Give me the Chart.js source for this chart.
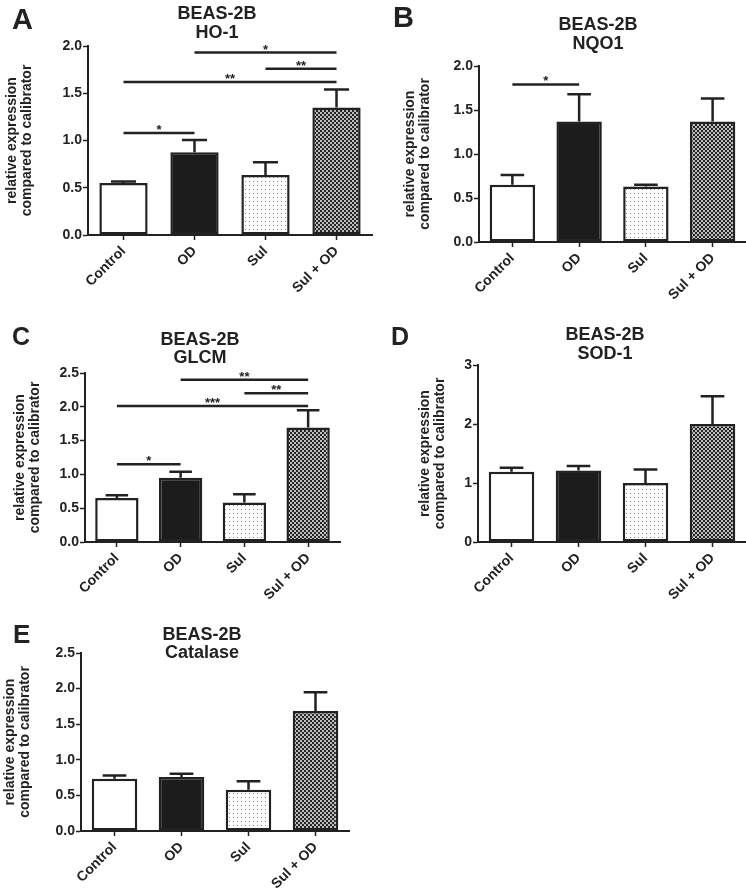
<!DOCTYPE html>
<html>
<head>
<meta charset="utf-8">
<script src="https://cdn.jsdelivr.net/npm/chart.js@4.4.0/dist/chart.umd.min.js"></script>
<style>
    html, body { margin: 0; padding: 0; background: #fff; }
    body { width: 746px; height: 893px; position: relative; overflow: hidden; }
    canvas { position: absolute; }
</style>
</head>
<body>
<canvas id="hoChart" width="373" height="300" style="left:0;top:0"></canvas>
<canvas id="nqoChart" width="373" height="300" style="left:373px;top:0"></canvas>
<canvas id="glcmChart" width="373" height="300" style="left:0;top:300px"></canvas>
<canvas id="sodChart" width="373" height="300" style="left:373px;top:300px"></canvas>
<canvas id="catChart" width="373" height="293" style="left:0;top:600px"></canvas>
<script>
const groups = ['Control', 'OD', 'Sul', 'Sul + OD'];
const yTitle = ['relative expression', 'compared to calibrator'];

// HO-1
const hoMean = [0.55, 0.875, 0.635, 1.35];
const hoSem = [0.015, 0.13, 0.135, 0.19];
const hoTicks = [0, 0.5, 1.0, 1.5, 2.0];
const hoSig = [
    { from: 0, to: 1, y: 1.08, mark: '*' },
    { from: 0, to: 3, y: 1.62, mark: '**' },
    { from: 2, to: 3, y: 1.76, mark: '**' },
    { from: 1, to: 3, y: 1.93, mark: '*' }
];

// NQO1
const nqoMean = [0.65, 1.37, 0.63, 1.37];
const nqoSem = [0.11, 0.31, 0.02, 0.26];
const nqoTicks = [0, 0.5, 1.0, 1.5, 2.0];
const nqoSig = [
    { from: 0, to: 1, y: 1.79, mark: '*' }
];

// GLCM
const glcmMean = [0.65, 0.95, 0.585, 1.695];
const glcmSem = [0.04, 0.09, 0.12, 0.255];
const glcmTicks = [0, 0.5, 1.0, 1.5, 2.0, 2.5];
const glcmSig = [
    { from: 0, to: 1, y: 1.15, mark: '*' },
    { from: 0, to: 3, y: 2.01, mark: '***' },
    { from: 2, to: 3, y: 2.2, mark: '**' },
    { from: 1, to: 3, y: 2.4, mark: '**' }
];

// SOD-1
const sodMean = [1.19, 1.21, 1.0, 2.0];
const sodSem = [0.07, 0.08, 0.23, 0.47];
const sodTicks = [0, 1, 2, 3];
const sodSig = [];

// Catalase
const catMean = [0.735, 0.76, 0.58, 1.685];
const catSem = [0.045, 0.045, 0.12, 0.265];
const catTicks = [0, 0.5, 1.0, 1.5, 2.0, 2.5];
const catSig = [];

const ink = '#222';
const family = "'Liberation Sans', Arial, Helvetica, sans-serif";
Chart.defaults.font.family = family;

function makePattern(size, draw) {
    const c = document.createElement('canvas');
    c.width = size;
    c.height = size;
    const g = c.getContext('2d');
    draw(g);
    return g.createPattern(c, 'repeat');
}

const dotFill = makePattern(4, (g) => {
    g.fillStyle = '#fff';
    g.fillRect(0, 0, 4, 4);
    g.fillStyle = '#8c8c8c';
    g.fillRect(1, 1, 1, 1);
});

const checkFill = makePattern(4, (g) => {
    g.fillStyle = '#262626';
    g.fillRect(0, 0, 4, 4);
    g.fillStyle = '#bdbdbd';
    g.fillRect(0, 0, 2, 2);
    g.fillRect(2, 2, 2, 2);
});

const fills = ['#ffffff', '#1c1c1c', dotFill, checkFill];

// error bars, significance lines, titles and panel letters
const panelExtras = {
    id: 'panelExtras',
    afterDatasetsDraw(chart, args, opts) {
        const ctx = chart.ctx;
        const xs = chart.scales.x;
        const ys = chart.scales.y;
        const bars = chart.getDatasetMeta(0).data;
        const mean = chart.data.datasets[0].data;

        ctx.save();
        ctx.strokeStyle = ink;
        ctx.lineWidth = 2.5;
        opts.sem.forEach((s, i) => {
            const bar = bars[i];
            const top = ys.getPixelForValue(mean[i] + s);
            const half = bar.width * 0.26;
            ctx.beginPath();
            ctx.moveTo(bar.x, bar.y);
            ctx.lineTo(bar.x, top);
            ctx.moveTo(bar.x - half, top);
            ctx.lineTo(bar.x + half, top);
            ctx.stroke();
        });

        ctx.fillStyle = ink;
        ctx.font = 'bold 13px ' + family;
        ctx.textAlign = 'center';
        ctx.textBaseline = 'alphabetic';
        opts.sig.forEach((b) => {
            const x1 = xs.getPixelForValue(b.from);
            const x2 = xs.getPixelForValue(b.to);
            const yy = ys.getPixelForValue(b.y);
            ctx.beginPath();
            ctx.moveTo(x1, yy);
            ctx.lineTo(x2, yy);
            ctx.stroke();
            ctx.fillText(b.mark, (x1 + x2) / 2, yy + 1);
        });
        ctx.restore();
    },
    afterDraw(chart, args, opts) {
        const ctx = chart.ctx;
        ctx.save();
        ctx.fillStyle = ink;
        ctx.textBaseline = 'alphabetic';
        ctx.textAlign = 'center';
        ctx.font = 'bold 18px ' + family;
        opts.title.forEach((line, i) => {
            ctx.fillText(line, opts.titleX, opts.titleY[i] + 6.5);
        });
        ctx.textAlign = 'left';
        ctx.font = 'bold ' + opts.letterSize + 'px ' + family;
        ctx.fillText(opts.letter, opts.letterX, opts.letterY);
        ctx.restore();
    }
};

function buildPanel(p) {
    const canvas = document.getElementById(p.id);
    const area = p.area;
    return new Chart(canvas, {
        type: 'bar',
        data: {
            labels: groups,
            datasets: [{
                data: p.mean,
                backgroundColor: fills,
                borderColor: ink,
                borderWidth: 2.5,
                borderSkipped: false,
                barPercentage: 0.68,
                categoryPercentage: 1
            }]
        },
        options: {
            responsive: false,
            animation: false,
            events: [],
            layout: {
                padding: { top: area.t, right: canvas.width - area.r, bottom: 0, left: 0 }
            },
            plugins: {
                legend: { display: false },
                tooltip: { enabled: false },
                panelExtras: {
                    sem: p.sem,
                    sig: p.sig,
                    title: p.title,
                    titleX: p.titleX,
                    titleY: p.titleY,
                    letter: p.letter,
                    letterX: p.letterX,
                    letterY: p.letterY,
                    letterSize: p.letterSize
                }
            },
            scales: {
                x: {
                    offset: true,
                    grid: { offset: false, drawOnChartArea: false, tickLength: 5, tickColor: ink, tickWidth: 1.5 },
                    border: { color: ink, width: 2 },
                    ticks: {
                        autoSkip: false,
                        maxRotation: 45,
                        minRotation: 45,
                        padding: 3,
                        color: ink,
                        font: { size: 14, weight: 'bold' }
                    },
                    afterFit: (s) => { s.height = canvas.height - area.b; }
                },
                y: {
                    min: 0,
                    max: p.ticks[p.ticks.length - 1],
                    afterBuildTicks: (s) => { s.ticks = p.ticks.map((v) => ({ value: v })); },
                    grid: { drawOnChartArea: false, tickLength: 5, tickColor: ink, tickWidth: 1.5 },
                    border: { color: ink, width: 2 },
                    ticks: {
                        padding: 1,
                        color: ink,
                        font: { size: 14, weight: 'bold' },
                        callback: (v) => Number(v).toFixed(p.decimals)
                    },
                    title: {
                        display: true,
                        text: yTitle,
                        color: ink,
                        font: { size: 14, weight: 'bold', lineHeight: '15px' },
                        padding: { top: p.yTitlePad, bottom: 0 }
                    },
                    afterFit: (s) => { s.width = area.l; }
                }
            }
        },
        plugins: [panelExtras]
    });
}

function main() {
    const panels = [
        {
            id: 'hoChart', mean: hoMean, sem: hoSem, ticks: hoTicks, sig: hoSig, decimals: 1,
            area: { l: 88, t: 46, r: 372, b: 235 },
            title: ['BEAS-2B', 'HO-1'], titleX: 217, titleY: [12.5, 31],
            letter: 'A', letterX: 12, letterY: 29, letterSize: 29, yTitlePad: 4.5
        },
        {
            id: 'nqoChart', mean: nqoMean, sem: nqoSem, ticks: nqoTicks, sig: nqoSig, decimals: 1,
            area: { l: 106, t: 66, r: 373, b: 242 },
            title: ['BEAS-2B', 'NQO1'], titleX: 225, titleY: [23.5, 42],
            letter: 'B', letterX: 20, letterY: 27, letterSize: 29, yTitlePad: 29.5
        },
        {
            id: 'glcmChart', mean: glcmMean, sem: glcmSem, ticks: glcmTicks, sig: glcmSig, decimals: 1,
            area: { l: 85, t: 73, r: 340, b: 242 },
            title: ['BEAS-2B', 'GLCM'], titleX: 200, titleY: [38.5, 56.5],
            letter: 'C', letterX: 12, letterY: 45, letterSize: 25, yTitlePad: 12.5
        },
        {
            id: 'sodChart', mean: sodMean, sem: sodSem, ticks: sodTicks, sig: sodSig, decimals: 0,
            area: { l: 105, t: 65, r: 373, b: 242 },
            title: ['BEAS-2B', 'SOD-1'], titleX: 232, titleY: [33.5, 52],
            letter: 'D', letterX: 18, letterY: 45, letterSize: 25, yTitlePad: 45
        },
        {
            id: 'catChart', mean: catMean, sem: catSem, ticks: catTicks, sig: catSig, decimals: 1,
            area: { l: 81, t: 53, r: 349, b: 231 },
            title: ['BEAS-2B', 'Catalase'], titleX: 202, titleY: [33.5, 51.5],
            letter: 'E', letterX: 13, letterY: 43, letterSize: 26, yTitlePad: 2.5
        }
    ];
    panels.forEach(buildPanel);
}

window.onload = main;
</script>
</body>
</html>
